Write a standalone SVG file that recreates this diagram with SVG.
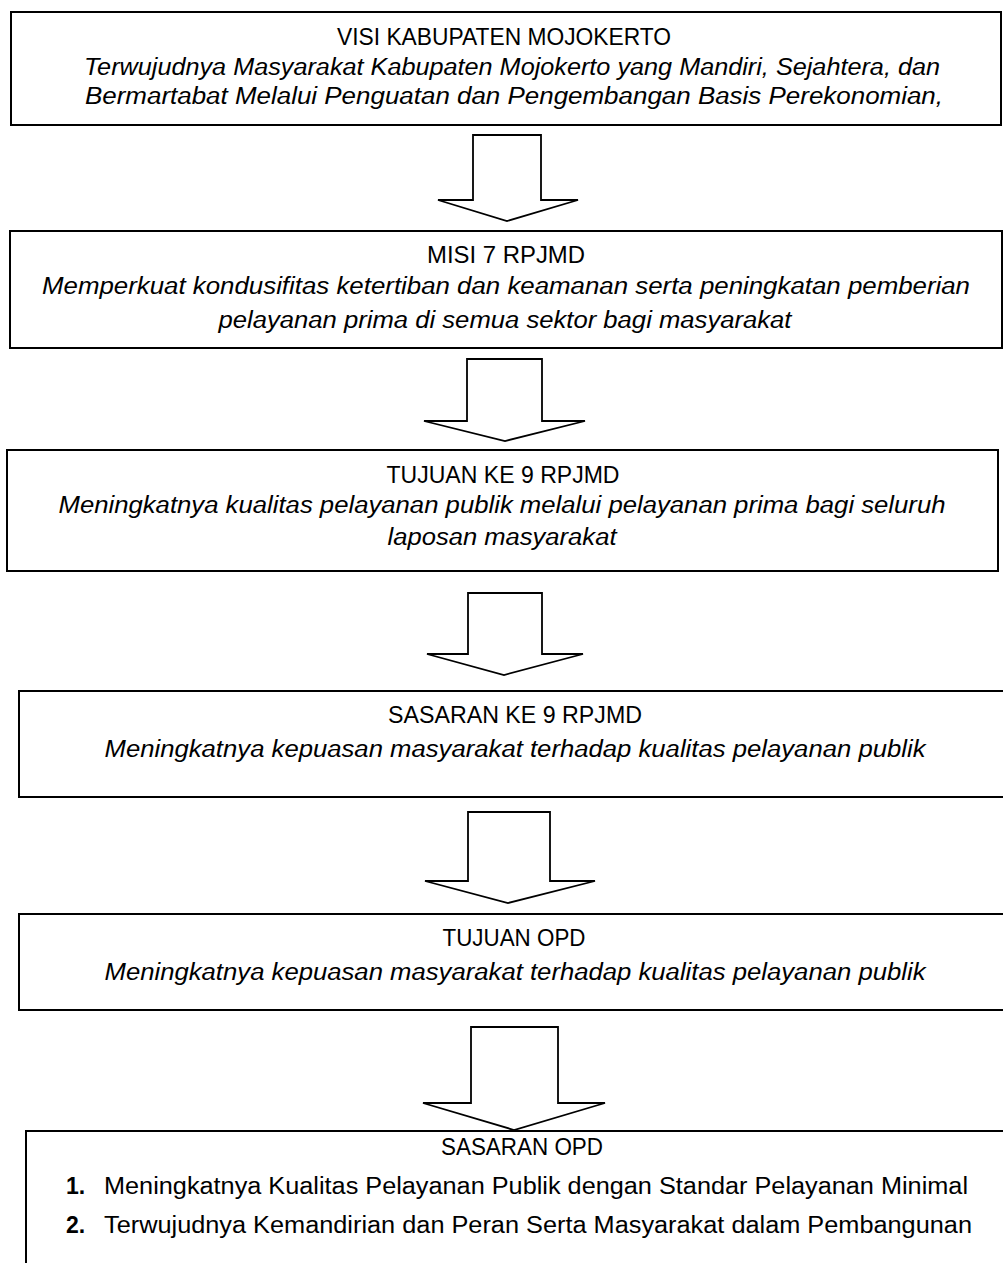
<svg xmlns="http://www.w3.org/2000/svg" width="1003" height="1263" viewBox="0 0 1003 1263">
<style>
.box{fill:#fff;stroke:#000;stroke-width:2}
.arr{fill:#fff;stroke:#000;stroke-width:1.8;stroke-linejoin:miter}
text{font-family:"Liberation Sans",Arial,sans-serif;font-size:23px;fill:#000}
.h{text-anchor:middle}
.i{font-style:italic;text-anchor:middle}
.n{font-weight:bold}
</style>
<rect width="1003" height="1263" fill="#fff"/>
<g id="connectors">
<polygon class="arr" points="473,135 541,135 541,200 578,200 507,221 438,200 473,200"/>
<polygon class="arr" points="467,359 542,359 542,421 585,421 505,441 424,421 467,421"/>
<polygon class="arr" points="468,593 542,593 542,654 583,654 504,675 427,654 468,654"/>
<polygon class="arr" points="468,812 550,812 550,881 595,881 508,903 425,881 468,881"/>
<polygon class="arr" points="471,1027 558,1027 558,1103 605,1103 514,1130 423,1103 471,1103"/>
</g>
<g id="visi">
<rect class="box" x="11" y="12" width="990" height="113"/>
<text class="h" x="504" y="45" textLength="334" lengthAdjust="spacingAndGlyphs">VISI KABUPATEN MOJOKERTO</text>
<text class="i" x="512" y="75" textLength="856" lengthAdjust="spacingAndGlyphs">Terwujudnya Masyarakat Kabupaten Mojokerto yang Mandiri, Sejahtera, dan</text>
<text class="i" x="514" y="104" textLength="858" lengthAdjust="spacingAndGlyphs">Bermartabat Melalui Penguatan dan Pengembangan Basis Perekonomian,</text>
</g>
<g id="misi">
<rect class="box" x="10" y="231" width="992" height="117"/>
<text class="h" x="506" y="263" textLength="158" lengthAdjust="spacingAndGlyphs">MISI 7 RPJMD</text>
<text class="i" x="506" y="294" textLength="928" lengthAdjust="spacingAndGlyphs">Memperkuat kondusifitas ketertiban dan keamanan serta peningkatan pemberian</text>
<text class="i" x="505" y="328" textLength="573" lengthAdjust="spacingAndGlyphs">pelayanan prima di semua sektor bagi masyarakat</text>
</g>
<g id="tujuan-rpjmd">
<rect class="box" x="7" y="450" width="991" height="121"/>
<text class="h" x="503" y="483" textLength="233" lengthAdjust="spacingAndGlyphs">TUJUAN KE 9 RPJMD</text>
<text class="i" x="502" y="513" textLength="887" lengthAdjust="spacingAndGlyphs">Meningkatnya kualitas pelayanan publik melalui pelayanan prima bagi seluruh</text>
<text class="i" x="502" y="545" textLength="229" lengthAdjust="spacingAndGlyphs">laposan masyarakat</text>
</g>
<g id="sasaran-rpjmd">
<rect class="box" x="19" y="691" width="1000" height="106"/>
<text class="h" x="515" y="723" textLength="254" lengthAdjust="spacingAndGlyphs">SASARAN KE 9 RPJMD</text>
<text class="i" x="515" y="757" textLength="821" lengthAdjust="spacingAndGlyphs">Meningkatnya kepuasan masyarakat terhadap kualitas pelayanan publik</text>
</g>
<g id="tujuan-opd">
<rect class="box" x="19" y="914" width="1000" height="96"/>
<text class="h" x="514" y="946" textLength="143" lengthAdjust="spacingAndGlyphs">TUJUAN OPD</text>
<text class="i" x="515" y="980" textLength="821" lengthAdjust="spacingAndGlyphs">Meningkatnya kepuasan masyarakat terhadap kualitas pelayanan publik</text>
</g>
<g id="sasaran-opd">
<rect class="box" x="26" y="1131" width="1000" height="150"/>
<text class="h" x="522" y="1155" textLength="162" lengthAdjust="spacingAndGlyphs">SASARAN OPD</text>
<text class="n" x="66" y="1194">1.</text>
<text x="104" y="1194" textLength="864" lengthAdjust="spacingAndGlyphs">Meningkatnya Kualitas Pelayanan Publik dengan Standar Pelayanan Minimal</text>
<text class="n" x="66" y="1233">2.</text>
<text x="104" y="1233" textLength="868" lengthAdjust="spacingAndGlyphs">Terwujudnya Kemandirian dan Peran Serta Masyarakat dalam Pembangunan</text>
</g>
</svg>
